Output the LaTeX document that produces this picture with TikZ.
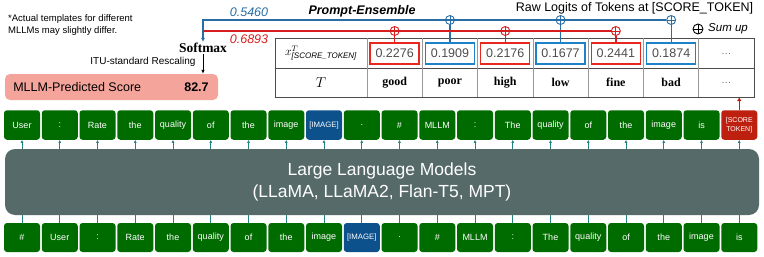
\documentclass[tikz,border=0pt]{standalone}
\usepackage{amsmath}
\usepackage{fontspec}
\setmainfont{Liberation Sans}
\newfontfamily\serifbf{Liberation Serif}
\usetikzlibrary{positioning,arrows.meta}

\definecolor{tokgreen}{RGB}{0,108,0}
\definecolor{tokblue}{RGB}{12,80,140}
\definecolor{tokred}{RGB}{190,32,16}
\definecolor{llmgray}{RGB}{86,106,106}
\definecolor{linkteal}{RGB}{35,130,130}
\definecolor{ensred}{RGB}{215,30,30}
\definecolor{ensblue}{RGB}{40,110,165}
\definecolor{boxred}{RGB}{232,40,30}
\definecolor{boxblue}{RGB}{30,130,200}
\definecolor{scorebg}{RGB}{244,164,155}

\begin{document}
\begin{tikzpicture}[x=1pt,y=-1pt,
    tok/.style={rounded corners=3pt, fill=tokgreen, text=white, minimum width=36pt, minimum height=29.5pt, inner sep=0pt, font=\fontsize{9}{10}\selectfont},
    imgtok/.style={tok, fill=tokblue, font=\fontsize{7.8}{9}\selectfont},
    scoretok/.style={tok, fill=tokred, align=center, font=\fontsize{7}{8.5}\selectfont},
    up/.style={linkteal, line width=0.9pt, -{Latex[length=3pt,width=3pt]}},
    feed/.style={linkteal, line width=0.9pt},
    valbox/.style={draw=#1, line width=1.4pt, minimum width=49pt, minimum height=21pt, inner sep=0pt, text=black!70, font=\fontsize{12.5}{14}\selectfont},
    osum/.style={circle, draw=#1, line width=0.9pt, minimum size=9pt, inner sep=0pt,
        path picture={\draw[#1, line width=0.9pt] (path picture bounding box.north) -- (path picture bounding box.south) (path picture bounding box.west) -- (path picture bounding box.east);}},
    ensline/.style={#1, line width=1.3pt},
    tabline/.style={black!70, line width=0.8pt},
    tabinner/.style={black!40, line width=0.8pt},
    word/.style={font=\serifbf\bfseries\fontsize{12}{14}\selectfont},
  ]
  \useasboundingbox (0,0) rectangle (764,257);

  % note and title texts
  \node[anchor=north west, align=left, inner sep=0pt, font=\fontsize{9.5}{12}\selectfont] (note) at (8,14) {*Actual templates for different\\MLLMs may slightly differ.};
  \node[font=\bfseries\itshape\fontsize{12.5}{14}\selectfont] (ensemble) at (362,11) {Prompt-Ensemble};
  \node[font=\fontsize{12.5}{14}\selectfont] (rawlogits) at (634.5,8) {Raw Logits of Tokens at [SCORE\_TOKEN]};
  \node[osum=black, minimum size=10pt] (sumsym) at (698,29) {};
  \node[anchor=west, inner sep=0pt, font=\itshape\fontsize{11.5}{14}\selectfont] (sumtxt) at (708,29) {Sum up};

  % table of raw logits
  \draw[tabline] (275,38) rectangle (754,97);
  \draw[tabline] (275,68) -- (754,68);
  \foreach \k in {0,...,6} { \draw[tabinner] (367+55.3*\k,38.4) -- (367+55.3*\k,96.6); }
  \coordinate (tabbot) at (754,97);
  \node[font=\fontsize{12}{14}\selectfont] (xlbl) at (321,53) {$x^{T}_{\text{\itshape[SCORE\_TOKEN]}}$};
  \node[font=\fontsize{14}{16}\selectfont] (tlbl) at (321,82.5) {$T$};
  \foreach \v/\w/\c [count=\k] in {0.2276/good/boxred, 0.1909/poor/boxblue, 0.2176/high/boxred, 0.1677/low/boxblue, 0.2441/fine/boxred, 0.1874/bad/boxblue} {
      \node[valbox=\c] (v\k) at (339.35+55.3*\k,53.5) {\v};
      \node[word] (w\k) at (339.35+55.3*\k,82.5) {\w};
  }
  \node[text=black!60] (vdots) at (726.45,53.5) {\ldots};
  \node[text=black!60] (wdots) at (726.45,82.5) {\ldots};

  % sum-up circles
  \foreach \k in {1,3,5} { \node[osum=ensred] (o\k) at (339.35+55.3*\k,31) {}; }
  \foreach \k in {2,4,6} { \node[osum=ensblue] (o\k) at (339.35+55.3*\k,20) {}; }
  \foreach \k in {1,3,5} { \draw[ensline=ensred] (o\k) -- (v\k); }
  \foreach \k in {2,4,6} { \draw[ensline=ensblue] (o\k) -- (v\k); }

  % softmax and score
  \node[inner sep=1pt, font=\serifbf\bfseries\fontsize{13.5}{15}\selectfont] (softmax) at (203,48) {Softmax};
  \draw[ensline=ensblue, -{Latex[length=4pt,width=4pt]}] (o6) -| (softmax.north);
  \draw[ensline=ensred] (o5) -- (o5 -| softmax.north);
  \node[text=ensblue, font=\itshape\fontsize{12.5}{14}\selectfont] (wblue) at (249,12) {0.5460};
  \node[text=ensred, font=\itshape\fontsize{12.5}{14}\selectfont] (wred) at (249,39) {0.6893};
  \node[rounded corners=5pt, fill=scorebg, minimum width=213pt, minimum height=26pt] (score) at (111.5,87) {};
  \draw[line width=0.9pt, -{Latex[length=4pt,width=3.5pt]}] (softmax.south) -- (softmax.south |- score.north);
  \node[anchor=east, font=\fontsize{10}{12}\selectfont] (itu) at (199,62) {ITU-standard Rescaling};
  \node[anchor=west, xshift=5pt, font=\fontsize{12.5}{14}\selectfont] (scorelbl) at (score.west) {MLLM-Predicted Score};
  \node[anchor=east, xshift=-6pt, font=\bfseries\fontsize{12.5}{14}\selectfont] (scoreval) at (score.east) {82.7};

  % language model
  \node[rounded corners=10pt, fill=llmgray, text=white, align=center, minimum width=754pt, minimum height=66pt, font=\fontsize{17.5}{22}\selectfont] (llm) at (382,182) {Large Language Models\\(LLaMA, LLaMA2, Flan-T5, MPT)};

  % output tokens
  \foreach \w/\s [count=\i from 0] in {User/tok, :/tok, Rate/tok, the/tok, quality/tok, of/tok, the/tok, image/tok, {[IMAGE]}/imgtok, ./tok, \#/tok, MLLM/tok, :/tok, The/tok, quality/tok, of/tok, the/tok, image/tok, is/tok}
      \node[\s] (top\i) at (22+37.75*\i,125) {\w};
  \node[scoretok] (top19) at (22+37.75*19,125) {[SCORE\\TOKEN]};
  % input tokens
  \foreach \w/\s [count=\i from 0] in {\#/tok, User/tok, :/tok, Rate/tok, the/tok, quality/tok, of/tok, the/tok, image/tok, {[IMAGE]}/imgtok, ./tok, \#/tok, MLLM/tok, :/tok, The/tok, quality/tok, of/tok, the/tok, image/tok, is/tok}
      \node[\s, minimum height=29pt] (bot\i) at (22+37.75*\i,237.5) {\w};

  \foreach \i in {0,...,19} {
      \draw[up] (llm.north -| top\i.south) -- (top\i.south);
      \draw[feed] (bot\i.north) -- (llm.south -| bot\i.north);
  }
  \draw[tokred, line width=1.3pt, -{Latex[length=4pt,width=4.5pt]}] (top19.north) -- (top19.north |- tabbot);
\end{tikzpicture}
\end{document}
